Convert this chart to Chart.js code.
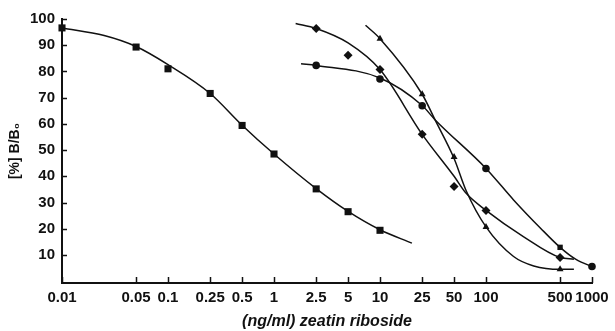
<!DOCTYPE html>
<html>
<head>
<meta charset="utf-8">
<script src="https://cdn.jsdelivr.net/npm/chart.js@4.4.1/dist/chart.umd.min.js"></script>
<style>
  html, body { margin: 0; padding: 0; background: #fff; }
  canvas { display: block; }
</style>
</head>
<body>
<canvas id="chart" width="615" height="331"></canvas>
<script>
// tick labels
const xTicks = [0.01, 0.05, 0.1, 0.25, 0.5, 1, 2.5, 5, 10, 25, 50, 100, 500, 1000];
const yTicks = [10, 20, 30, 40, 50, 60, 70, 80, 90, 100];

// series A (squares, left curve)
const aX = [0.01, 0.05, 0.1, 0.25, 0.5, 1, 2.5, 5, 10];
const aY = [96.6, 89.3, 81, 71.6, 59.4, 48.5, 35.2, 26.5, 19.4];
const aCurveX = [0.01, 0.025, 0.05, 0.1, 0.25, 0.5, 1, 2.5, 5, 10, 20];
const aCurveY = [96.6, 93.7, 89.5, 82.6, 71.6, 59.5, 48.5, 35.3, 26.6, 19.6, 14.5];

// series B (diamonds)
const bX = [2.5, 5, 10, 25, 50, 100, 500];
const bY = [96.4, 86.2, 80.7, 56, 36.1, 27, 9];
const bCurveX = [1.6, 2.5, 5, 10, 25, 50, 65, 100, 225, 500, 675];
const bCurveY = [98.3, 96.4, 90.9, 80.7, 56, 40, 33.5, 27, 17, 9, 8.4];

// series C (circles, 500 marked with a square)
const cX = [2.5, 10, 25, 100, 500, 1000];
const cY = [82.3, 77.1, 66.9, 43, 12.9, 5.6];
const cStyles = ['circle', 'circle', 'circle', 'circle', 'rect', 'circle'];
const cCurveX = [1.8, 2.5, 10, 25, 33, 100, 182, 327, 500, 700, 1000, 1300];
const cCurveY = [82.9, 82.3, 77.5, 67, 61.6, 43, 31, 20.2, 12.9, 8.4, 5.6, 4];

// series D (triangles)
const dX = [10, 25, 50, 100, 500];
const dY = [92.5, 71.3, 47.4, 20.7, 4.5];
const dCurveX = [7.3, 10, 25, 33, 50, 65, 100, 182, 282, 500, 675];
const dCurveY = [97.6, 92.5, 71.3, 61.6, 46.8, 34.5, 20.7, 9.4, 5.8, 4.5, 4.5];

const INK = '#111';
const FONT = "'Liberation Sans', Arial, sans-serif";
const pts = (xs, ys) => xs.map((x, i) => ({x: x, y: ys[i]}));

function curve(xs, ys) {
  return {
    data: pts(xs, ys),
    showLine: true,
    borderColor: INK,
    borderWidth: 1.5,
    pointRadius: 0,
    cubicInterpolationMode: 'monotone',
    clip: false
  };
}
function marks(xs, ys, style, r) {
  return {
    data: pts(xs, ys),
    showLine: false,
    pointStyle: style,
    pointRadius: r,
    backgroundColor: INK,
    borderColor: INK,
    borderWidth: 0,
    clip: false
  };
}

// inward tick marks on both axes
const inwardTicks = {
  id: 'inwardTicks',
  afterDraw(chart) {
    const {ctx, chartArea, scales} = chart;
    ctx.save();
    ctx.strokeStyle = INK;
    ctx.lineWidth = 1.5;
    ctx.beginPath();
    scales.x.ticks.forEach(t => {
      const px = Math.round(scales.x.getPixelForValue(t.value)) + 0.5;
      ctx.moveTo(px, chartArea.bottom);
      ctx.lineTo(px, chartArea.bottom - 6);
    });
    scales.y.ticks.forEach(t => {
      const py = Math.round(scales.y.getPixelForValue(t.value)) + 0.5;
      ctx.moveTo(chartArea.left, py);
      ctx.lineTo(chartArea.left + 5, py);
    });
    ctx.stroke();
    ctx.restore();
  }
};

const labelFont = {family: FONT, size: 15, weight: 'bold'};

new Chart(document.getElementById('chart').getContext('2d'), {
  type: 'scatter',
  data: {
    datasets: [
      curve(aCurveX, aCurveY),
      curve(bCurveX, bCurveY),
      curve(cCurveX, cCurveY),
      curve(dCurveX, dCurveY),
      marks(aX, aY, 'rect', 5),
      marks(bX, bY, 'rectRot', 4.5),
      marks(cX, cY, cStyles, 3.8),
      marks(dX, dY, 'triangle', 4)
    ]
  },
  options: {
    responsive: false,
    animation: false,
    layout: {padding: {top: 19, right: 23, left: 0, bottom: 0}},
    plugins: {legend: {display: false}, tooltip: {enabled: false}},
    scales: {
      x: {
        type: 'logarithmic',
        min: 0.01,
        max: 1000,
        afterBuildTicks: s => { s.ticks = xTicks.map(v => ({value: v})); },
        afterFit: s => { s.height = 48; },
        ticks: {
          autoSkip: false,
          maxRotation: 0,
          padding: 6,
          color: INK,
          font: labelFont,
          callback: v => String(v)
        },
        grid: {display: true, drawOnChartArea: false, drawTicks: false},
        border: {display: true, color: INK, width: 2},
        title: {
          display: true,
          text: '(ng/ml) zeatin riboside',
          color: INK,
          font: {family: FONT, size: 16, weight: 'bold', style: 'italic'},
          padding: {top: 0, bottom: 0}
        }
      },
      y: {
        min: -0.7,
        max: 100,
        afterBuildTicks: s => { s.ticks = yTicks.map(v => ({value: v})); },
        afterFit: s => { s.width = 62; },
        ticks: {padding: 7, color: INK, font: labelFont},
        grid: {display: true, drawOnChartArea: false, drawTicks: false},
        border: {display: true, color: INK, width: 2},
        title: {
          display: true,
          text: '[%] B/B₀',
          color: INK,
          font: {family: FONT, size: 14, weight: 'bold'},
          padding: {top: 7, bottom: 0}
        }
      }
    }
  },
  plugins: [inwardTicks]
});
</script>
</body>
</html>
